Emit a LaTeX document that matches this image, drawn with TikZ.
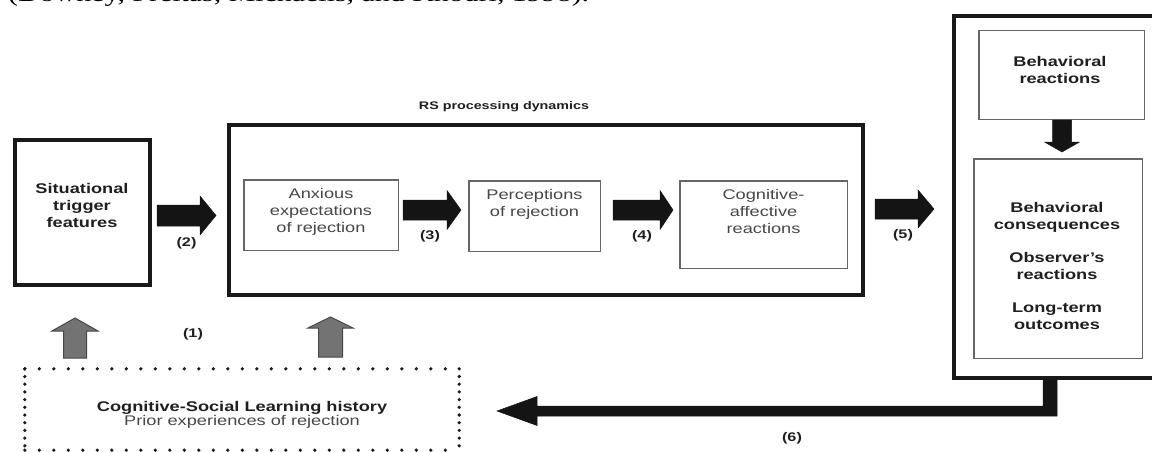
\documentclass[tikz,border=0pt]{standalone}
\usepackage{fontspec}
\setmainfont{Liberation Sans}[FakeStretch=1.3]
\newfontfamily\citefont{Liberation Serif}[FakeStretch=1.3]
\newcommand\ArrR[7]{% style, x0, xh, tip, y, body half, head half
  \filldraw[#1] (#2,#5-#6) -- (#3,#5-#6) -- (#3,#5-#7) -- (#4,#5) -- (#3,#5+#7) -- (#3,#5+#6) -- (#2,#5+#6) -- cycle;}
\newcommand\ArrV[7]{% style, x, y0, yh, tip, body half, head half
  \filldraw[#1] (#2-#6,#3) -- (#2-#6,#4) -- (#2-#7,#4) -- (#2,#5) -- (#2+#7,#4) -- (#2+#6,#4) -- (#2+#6,#3) -- cycle;}
\begin{document}
\begin{tikzpicture}[x=1pt,y=-1pt,
  outer/.style={draw=black!90, line width=4pt, inner sep=0pt},
  inner/.style={draw=black!60, line width=1.5pt, inner sep=0pt},
  txt/.style={font=\fontsize{14}{17}\selectfont, align=center, inner sep=0pt, text=black!72},
  btxt/.style={font=\fontsize{14}{17}\selectfont\bfseries, align=center, inner sep=0pt, text=black!88},
  lbl/.style={font=\fontsize{12.5}{14}\selectfont\bfseries, inner sep=0pt, text=black!88},
  blk/.style={fill=black!92, draw=black!92, line width=0.5pt, line join=miter},
  gblk/.style={fill=black!55, draw=black!72, line width=1pt, line join=miter},
  doth/.style={draw=black!90, line width=3.6pt, line cap=round, dash pattern=on 0pt off 14.5pt},
  dotv/.style={draw=black!90, line width=3.6pt, line cap=round, dash pattern=on 0pt off 7.7pt}]
\useasboundingbox (0,0) rectangle (1152,452);
\clip (0,0) rectangle (1152,452);

% cut-off caption line at the top
\node[anchor=base west, inner sep=0pt, font=\citefont\fontsize{23}{27}\selectfont] (cite) at (8,2)
  {(Downey, Freitas, Michaelis, and Khouri, 1998).};

% boxes
\node[outer, minimum width=135pt, minimum height=145pt] (sit) at (82.5,212.5) {};
\node[outer, minimum width=634pt, minimum height=170pt] (rs) at (546,210) {};
\node[outer, minimum width=206pt, minimum height=362pt] (right) at (1057,197) {};
\node[inner, minimum width=154.5pt, minimum height=70.5pt] (anx) at (321,215) {};
\node[inner, minimum width=131.5pt, minimum height=70.5pt] (per) at (534.5,216) {};
\node[inner, minimum width=167.5pt, minimum height=87.5pt] (cog) at (763.5,224.5) {};
\node[inner, minimum width=165.5pt, minimum height=88.5pt] (beh) at (1061.5,75) {};
\node[inner, minimum width=168.5pt, minimum height=199.5pt] (con) at (1058,258.5) {};
\node[minimum width=434pt, minimum height=81pt, inner sep=0pt] (hist) at (242,409.5) {};
\path[doth] (hist.north west) -- (hist.north east);
\path[doth] (hist.south west) -- (hist.south east);
\path[dotv] (hist.north west) -- (hist.south west);
\path[dotv] (hist.north east) -- (hist.south east);

% texts
\node[btxt] (sitt) at (82,205) {Situational\\trigger\\features};
\node[lbl, font=\fontsize{11}{13}\selectfont\bfseries] (rst) at (504,107) {RS processing dynamics};
\node[txt] (anxt) at (321,211.5) {Anxious\\expectations\\of rejection};
\node[txt] (pert) at (534.5,204.5) {Perceptions\\of rejection};
\node[txt] (cogt) at (763.5,211.5) {Cognitive-\\affective\\reactions};
\node[btxt] (beht) at (1060,69.5) {Behavioral\\reactions};
\node[btxt] (cont) at (1057,265.5) {Behavioral\\consequences\\[16pt]Observer's\\reactions\\[16pt]Long-term\\outcomes};
\node[align=center, inner sep=0pt] (histt) at (242,415)
  {{\fontsize{14}{16}\selectfont\bfseries\color{black!88}Cognitive-Social Learning history}\\
   {\fontsize{14}{16}\selectfont\color{black!72}Prior experiences of rejection}};

% labels
\node[lbl] (l1) at (193,334) {(1)};
\node[lbl] (l2) at (186.5,243) {(2)};
\node[lbl] (l3) at (430,236) {(3)};
\node[lbl] (l4) at (642,236) {(4)};
\node[lbl] (l5) at (903,235) {(5)};
\node[lbl] (l6) at (792,438) {(6)};

% block arrows
\ArrR{blk}{157}{200}{216}{215.5}{10.5}{19.5}
\ArrR{blk}{403}{447}{461}{210}{10}{19.5}
\ArrR{blk}{613}{660}{673}{210}{10}{19.5}
\ArrR{blk}{875}{918}{934}{209}{10}{19}
\ArrV{blk}{1062}{120}{142}{152}{9.5}{17.5}
\ArrV{gblk}{75}{358}{331}{318}{11.5}{23}
\ArrV{gblk}{330.5}{357}{328}{317}{12}{22.5}

% feedback arrow (6)
\filldraw[blk] (497,411) -- (537,396.5) -- (537,406) -- (1043,406) -- (1043,380)
  -- (1057,380) -- (1057,416) -- (537,416) -- (537,425.5) -- cycle;
\end{tikzpicture}
\end{document}
